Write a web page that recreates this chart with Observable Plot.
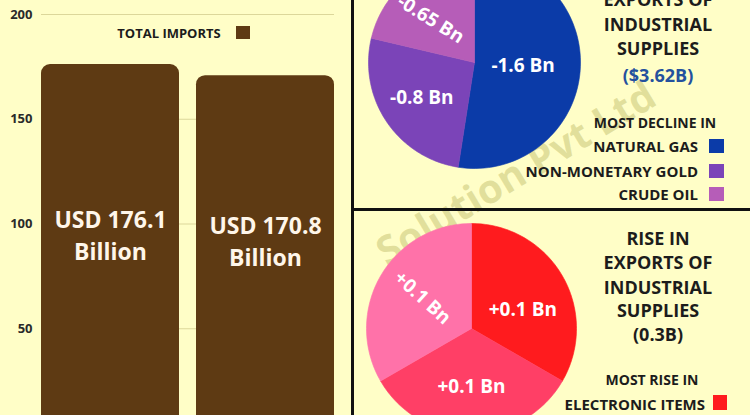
<!DOCTYPE html>
<html><head><meta charset="utf-8">
<script src="https://cdn.jsdelivr.net/npm/d3@7"></script>
<script src="https://cdn.jsdelivr.net/npm/@observablehq/plot@0.6"></script>
<style>
body{margin:0;background:#FFFEC7;font-family:"Open Sans",sans-serif;}
#root{position:relative;width:750px;height:415px;overflow:hidden;background:#FFFEC7;}
.abs{position:absolute;}
.t{position:absolute;transform:translate(-50%,-50%);white-space:nowrap;font-weight:700;color:#1c1c1c;line-height:1;}
.r{position:absolute;transform:translate(-100%,-50%);white-space:nowrap;font-weight:700;color:#1c1c1c;line-height:1;}
.sq{position:absolute;}
</style>
</head><body><div id="root"></div>
<script>
// ---------- data ----------
const importCategories = ["Previous period", "Current period"];
const importValues = [176.1, 170.8];
const importLabels = ["USD 176.1\nBillion", "USD 170.8\nBillion"];
const yTickValues = [50, 100, 150, 200];

const declineItems = ["NATURAL GAS", "NON-MONETARY GOLD", "CRUDE OIL"];
const declineValues = [1.6, 0.8, 0.65];
const declineLabels = ["-1.6 Bn", "-0.8 Bn", "-0.65 Bn"];
const declineTitle = ["EXPORTS OF", "INDUSTRIAL", "SUPPLIES"];
const declineTotal = "($3.62B)";

const riseItems = ["ELECTRONIC ITEMS"];
const riseValues = [0.1, 0.1, 0.1];
const riseLabels = ["+0.1 Bn", "+0.1 Bn", "+0.1 Bn"];
const riseTitle = ["RISE IN", "EXPORTS OF", "INDUSTRIAL", "SUPPLIES"];
const riseTotal = "(0.3B)";

// ---------- styles ----------
const BROWN = "#5E3A13";
const declineColors = ["#0B3BA8", "#7B44B8", "#B65DB8"];
const riseColors = ["#FF1B1E", "#FF3F66", "#FF72A9"];
const declineLabelR = [0.46, 0.6, 0.58], declineShift = [0, 0, -7], declineRot = [0, 0, 32];
const riseLabelR = [0.52, 0.56, 0.55], riseShift = [10, 0, 2], riseRot = [0, 0, 42];
const FONT = "'Open Sans', sans-serif";

const root = document.getElementById("root");
function add(html){ root.insertAdjacentHTML("beforeend", html); }

// watermark (behind everything)
add(`<div class="abs" style="left:515px;top:172px;transform:translate(-50%,-50%) rotate(-31deg);font-size:40px;font-weight:700;color:rgba(150,145,45,0.28);white-space:nowrap;">Solution Pvt Ltd</div>`);

// ---------- bar chart ----------
const bars = importCategories.map((c, i) => ({cat: c, value: importValues[i], label: importLabels[i]}));
const barPlot = Plot.plot({
  width: 352, height: 415,
  marginLeft: 41, marginRight: 18, marginTop: 14, marginBottom: 0,
  style: {background: "transparent", fontFamily: FONT, overflow: "visible"},
  x: {type: "band", domain: importCategories, paddingInner: 0.11, paddingOuter: 0, axis: null},
  y: {domain: [0, 200], range: [433, 14]},
  marks: [
    Plot.gridY(yTickValues, {stroke: "#DCD79A", strokeOpacity: 1, strokeWidth: 1}),
    Plot.axisY(yTickValues, {tickSize: 0, tickPadding: 9, fontSize: 13, fontWeight: "bold", fill: "#2a2a2a", label: null}),
    Plot.barY(bars, {x: "cat", y: "value", fill: BROWN, rx: 9}),
    Plot.text(bars, {x: "cat", y: d => d.value / 2, text: "label", fill: "#FFF6EA", fontSize: 23, fontWeight: "bold", lineHeight: 1.4, dy: -15})
  ]
});
barPlot.style.position = "absolute"; barPlot.style.left = "0px"; barPlot.style.top = "0px";
root.appendChild(barPlot);

// legend "TOTAL IMPORTS"
add(`<div class="t" style="left:169px;top:33px;font-size:13px;">TOTAL IMPORTS</div>`);
add(`<div class="sq" style="left:236px;top:26px;width:14px;height:13px;background:${BROWN}"></div>`);

// ---------- pies ----------
function piePlot({values, labels, colors, labelR, shift, rot, width, height, cx, cy, r}) {
  const arcs = d3.pie().sort(null).value(v => v).startAngle(0).endAngle(2 * Math.PI)(values);
  const marks = [];
  arcs.forEach((a, i) => {
    const pts = [{x: 0, y: 0}];
    const n = 80;
    for (let k = 0; k <= n; k++) {
      const t = a.startAngle + (a.endAngle - a.startAngle) * k / n;
      pts.push({x: Math.sin(t), y: -Math.cos(t)});
    }
    pts.push({x: 0, y: 0});
    marks.push(Plot.line(pts, {x: "x", y: "y", fill: colors[i], stroke: colors[i], strokeWidth: 0.6, curve: "linear"}));
  });
  const lab = arcs.map((a, i) => {
    const m = (a.startAngle + a.endAngle) / 2 + shift[i] * Math.PI / 180;
    return {x: labelR[i] * Math.sin(m), y: -labelR[i] * Math.cos(m), text: labels[i], rot: rot[i]};
  });
  marks.push(Plot.text(lab, {x: "x", y: "y", text: "text", rotate: "rot", fill: "white", fontSize: 19, fontWeight: "bold"}));
  return Plot.plot({
    width, height, margin: 0,
    style: {background: "transparent", fontFamily: FONT, overflow: "visible"},
    x: {domain: [-1, 1], range: [cx - r, cx + r], axis: null},
    y: {domain: [-1, 1], range: [cy - r, cy + r], axis: null},
    marks
  });
}

const pie1 = piePlot({values: declineValues, labels: declineLabels, colors: declineColors,
  labelR: declineLabelR, shift: declineShift, rot: declineRot, width: 398, height: 208, cx: 122, cy: 62, r: 106});
pie1.style.position = "absolute"; pie1.style.left = "352px"; pie1.style.top = "0px";
root.appendChild(pie1);

const pie2 = piePlot({values: riseValues, labels: riseLabels, colors: riseColors,
  labelR: riseLabelR, shift: riseShift, rot: riseRot, width: 398, height: 204, cx: 119, cy: 117, r: 105});
pie2.style.position = "absolute"; pie2.style.left = "352px"; pie2.style.top = "211px";
root.appendChild(pie2);

// titles
const t1y = [-1, 24, 48];
declineTitle.forEach((s, i) => add(`<div class="t" style="left:658px;top:${t1y[i]}px;font-size:18px;">${s}</div>`));
add(`<div class="t" style="left:658px;top:75px;font-size:18px;color:#24519E;">${declineTotal}</div>`);
const t2y = [238, 262, 287, 310];
riseTitle.forEach((s, i) => add(`<div class="t" style="left:658px;top:${t2y[i]}px;font-size:18px;">${s}</div>`));
add(`<div class="t" style="left:658px;top:334px;font-size:18px;">${riseTotal}</div>`);

// legends
add(`<div class="t" style="left:655px;top:123px;font-size:14px;">MOST DECLINE IN</div>`);
const ly = [146, 171, 194];
declineItems.forEach((s, i) => {
  add(`<div class="r" style="left:698px;top:${ly[i]}px;font-size:15px;">${s}</div>`);
  add(`<div class="sq" style="left:709px;top:${ly[i] - 7}px;width:15px;height:14px;background:${declineColors[i]}"></div>`);
});
add(`<div class="t" style="left:652px;top:380px;font-size:14px;">MOST RISE IN</div>`);
add(`<div class="r" style="left:705px;top:404px;font-size:15px;">${riseItems[0]}</div>`);
add(`<div class="sq" style="left:713px;top:395px;width:14px;height:15px;background:${riseColors[0]}"></div>`);

// panel dividers
add(`<div class="abs" style="left:351px;top:0;width:3px;height:415px;background:#111"></div>`);
add(`<div class="abs" style="left:352px;top:208px;width:398px;height:3px;background:#111"></div>`);
</script>
</body></html>
